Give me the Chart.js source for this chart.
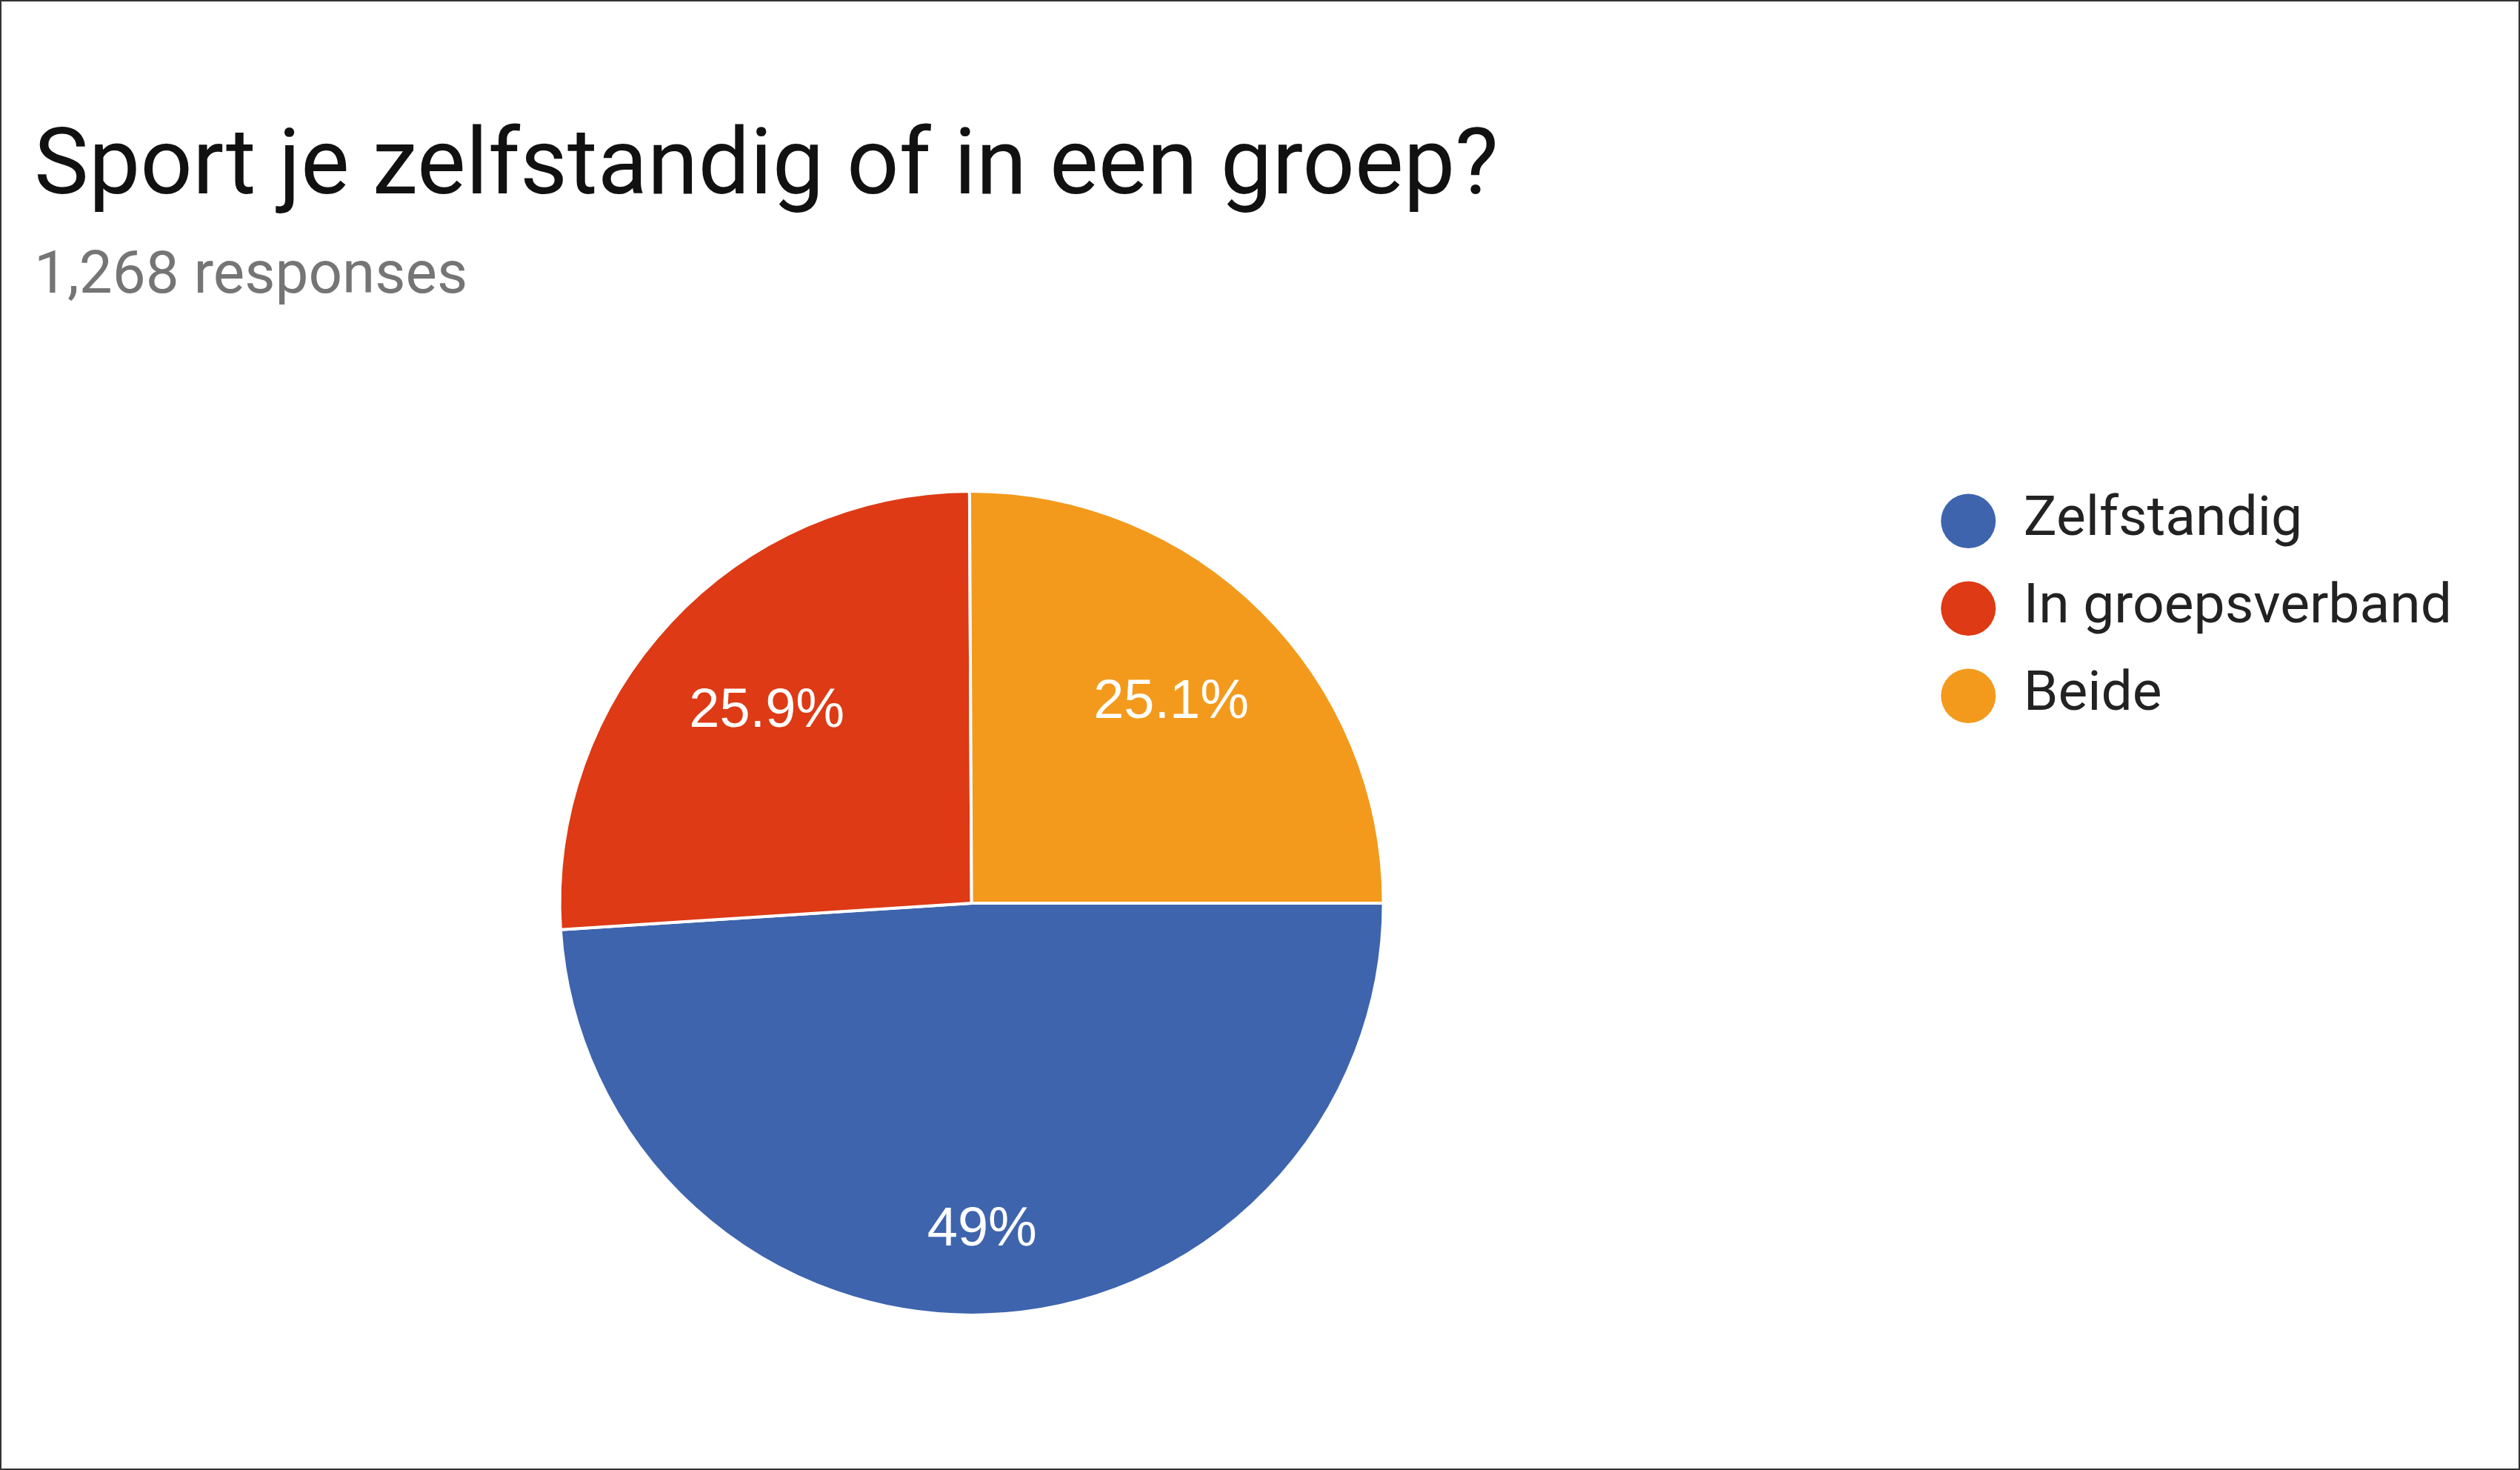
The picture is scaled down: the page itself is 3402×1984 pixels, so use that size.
<!DOCTYPE html>
<html>
<head>
<meta charset="utf-8">
<title>Sport je zelfstandig of in een groep?</title>
<script src="https://cdn.jsdelivr.net/npm/chart.js@4.4.1/dist/chart.umd.min.js"></script>
<style>
    html, body { margin: 0; padding: 0; background: #ffffff; overflow: hidden; }
    #pieGraph { position: absolute; left: 0; top: 0; }
    #frame {
        position: absolute; left: 0; top: 0; width: 3402px; height: 1984px;
        box-sizing: border-box; border: 2px solid #333333; pointer-events: none;
    }
</style>
</head>
<body>
<canvas id="pieGraph" width="3402" height="1984"></canvas>
<div id="frame"></div>
<script>
// chart data
var question = 'Sport je zelfstandig of in een groep?';
var categories = ['Zelfstandig', 'In groepsverband', 'Beide'];
var responses = [621, 329, 318];

var sliceColors = ['#3e64ad', '#dd3a15', '#f39a1d'];

function percentText(value, total) {
    var pct = (value / total * 100).toFixed(1);
    return pct.replace(/\.0$/, '') + '%';
}

// white percentage labels inside the slices
var sliceLabels = {
    id: 'sliceLabels',
    afterDatasetsDraw: function(chart, args, opts) {
        var ctx = chart.ctx;
        var meta = chart.getDatasetMeta(0);
        var data = chart.data.datasets[0].data;
        var total = data.reduce(function(a, b) { return a + b; }, 0);
        ctx.save();
        ctx.fillStyle = '#ffffff';
        ctx.font = opts.font;
        ctx.textAlign = 'center';
        ctx.textBaseline = 'middle';
        meta.data.forEach(function(arc, i) {
            var p = arc.getProps(['x', 'y', 'startAngle', 'endAngle', 'outerRadius'], true);
            var mid = (p.startAngle + p.endAngle) / 2;
            var r = p.outerRadius * opts.radial[i];
            ctx.fillText(percentText(data[i], total), p.x + Math.cos(mid) * r, p.y + Math.sin(mid) * r);
        });
        ctx.restore();
    }
};

function pieChart(labels, values) {
    var total = values.reduce(function(a, b) { return a + b; }, 0);
    var ctx = document.getElementById('pieGraph').getContext('2d');
    var chart = new Chart(ctx, {

    type: 'pie',

    data: {
        labels: labels,
        datasets: [{
            data: values,
            backgroundColor: sliceColors,
            borderColor: '#ffffff',
            borderWidth: 4,
            radius: 556
        }]
    },

    plugins: [sliceLabels],

    options: {
        responsive: false,
        animation: false,
        rotation: 90,
        layout: {
            padding: { left: 46, right: 82, top: 0, bottom: 163 }
        },
        plugins: {
            title: {
                display: true,
                text: question,
                align: 'start',
                color: '#111111',
                font: { family: 'Roboto', size: 124, weight: 'normal' },
                padding: { top: 156, bottom: 0 }
            },
            subtitle: {
                display: true,
                text: total.toLocaleString('en-US') + ' responses',
                align: 'start',
                color: '#757575',
                font: { family: 'Roboto', size: 80, weight: 'normal' },
                padding: { top: 22, bottom: 194 }
            },
            legend: {
                display: true,
                position: 'right',
                align: 'start',
                fullSize: false,
                // empty title, only used to push the items down a little
                title: {
                    display: true,
                    text: ' ',
                    font: { size: 5, lineHeight: 1.2 },
                    padding: 0
                },
                labels: {
                    usePointStyle: true,
                    pointStyle: 'circle',
                    boxWidth: 74,
                    boxHeight: 52,
                    pointStyleWidth: 74,
                    padding: 43,
                    color: '#222222',
                    font: { family: 'Roboto', size: 75 },
                    generateLabels: function(chart) {
                        var items = Chart.overrides.pie.plugins.legend.labels.generateLabels(chart);
                        return items.map(function(item) {
                            item.lineWidth = 0;
                            return item;
                        });
                    }
                }
            },
            tooltip: { enabled: false },
            sliceLabels: {
                font: '74px "Liberation Sans", Arial, sans-serif',
                radial: [0.795, 0.68, 0.687]
            }
        }
    }
    });
    return chart;
}

Promise.all([
    document.fonts.load('124px Roboto'),
    document.fonts.load('74px "Liberation Sans"')
]).then(function() {
    pieChart(categories, responses);
}, function() {
    pieChart(categories, responses);
});
</script>
</body>
</html>
